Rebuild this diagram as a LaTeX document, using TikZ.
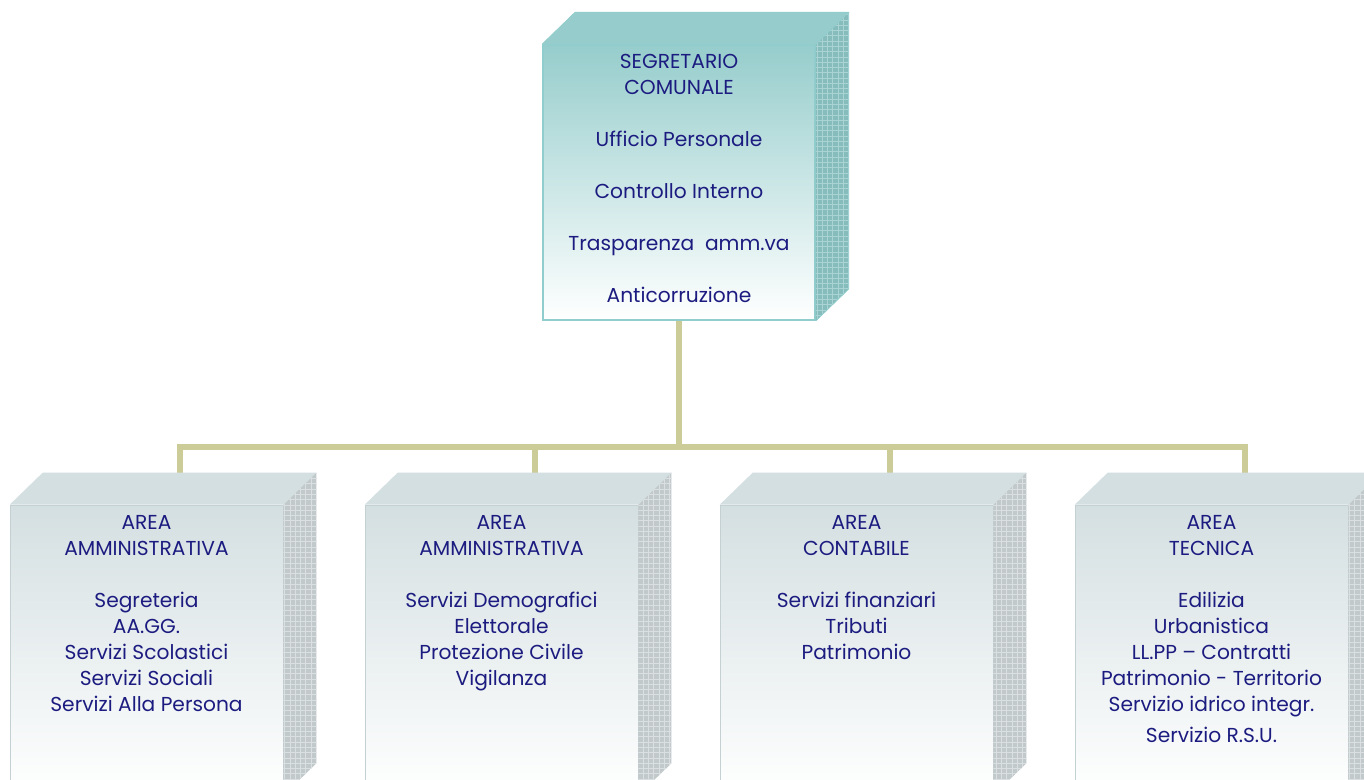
\documentclass[tikz,border=0pt]{standalone}
\usepackage{fontspec}
\setmainfont{Poppins}
\usetikzlibrary{calc,patterns}
\definecolor{ink}{RGB}{28,28,128}
\definecolor{linkolive}{RGB}{204,204,153}
\definecolor{tealtop}{RGB}{150,205,204}
\definecolor{tealedge}{RGB}{145,205,205}
\definecolor{tealside}{RGB}{135,188,188}
\definecolor{tealgrid}{RGB}{170,212,212}
\definecolor{greytop}{RGB}{212,223,225}
\definecolor{greyedge}{RGB}{196,208,210}
\definecolor{greyside}{RGB}{194,201,203}
\definecolor{greygrid}{RGB}{218,223,225}
\tikzset{link/.style = {draw=linkolive, line width=0.12cm}}
\tikzset{segbox/.style = {draw=tealedge, line width=1pt, inner sep=0, minimum width=5.44cm, minimum height=5.5cm, top color=tealtop, bottom color=white}}
\tikzset{areabox/.style = {draw=greyedge, inner sep=0, minimum width=5.46cm, minimum height=5.8cm, top color=greytop, bottom color=white}}
\tikzset{boxtext/.style = {align=center, text=ink, anchor=north, inner sep=0, font=\fontsize{11.5}{14.8}\selectfont}}

\begin{document}
\begin{tikzpicture}[x=0.02cm, y=-0.02cm]
\clip (0,0) rectangle (1364,779);
\fill[white] (0,0) rectangle (1364,779);
% links
\coordinate (bus) at (679,447);
\draw[link] (679,320) -- (bus);
\draw[link] (179.5,473) -- (179.5,447) -- (1244.5,447) -- (1244.5,473);
\draw[link] (534.5,473) -- (534.5,447);
\draw[link] (889.5,473) -- (889.5,447);
% top box
\node[segbox] (seg) at (679,182.5) {};
\fill[tealtop] (seg.north west) -- ++(33,-32) -- ($(seg.north east)+(33,-32)$) -- (seg.north east) -- cycle;
\fill[tealside] (seg.north east) -- ++(33,-32) -- ($(seg.south east)+(33,-32)$) -- (seg.south east) -- cycle;
\fill[pattern=grid, pattern color=tealgrid] (seg.north east) -- ++(33,-32) -- ($(seg.south east)+(33,-32)$) -- (seg.south east) -- cycle;
\draw[tealedge] (seg.north west) -- ++(33,-32) -- ($(seg.north east)+(33,-32)$) -- ($(seg.south east)+(33,-32)$) -- (seg.south east);
\draw[tealedge] (seg.north east) -- ++(33,-32);
\node[boxtext] (segtxt) at ($(seg.north)+(0,10)$) {SEGRETARIO\\COMUNALE\\[14.8pt]Ufficio Personale\\[14.8pt]Controllo Interno\\[14.8pt]Trasparenza~ amm.va\\[14.8pt]Anticorruzione};
% area boxes
\node[areabox] (amm1) at (146.5,650) {};
\node[areabox] (amm2) at (501.5,650) {};
\node[areabox] (cont) at (856.5,650) {};
\node[areabox] (tec) at (1211.5,650) {};
\foreach \b in {amm1,amm2,cont,tec}{
  \fill[greytop] (\b.north west) -- ++(33,-32) -- ($(\b.north east)+(33,-32)$) -- (\b.north east) -- cycle;
  \fill[greyside] (\b.north east) -- ++(33,-32) -- ($(\b.south east)+(33,-32)$) -- (\b.south east) -- cycle;
  \fill[pattern=grid, pattern color=greygrid] (\b.north east) -- ++(33,-32) -- ($(\b.south east)+(33,-32)$) -- (\b.south east) -- cycle;
}
\node[boxtext] (amm1txt) at ($(amm1.north)+(0,10)$) {AREA\\AMMINISTRATIVA\\[14.8pt]Segreteria\\AA.GG.\\Servizi Scolastici\\Servizi Sociali\\Servizi Alla Persona};
\node[boxtext] (amm2txt) at ($(amm2.north)+(0,10)$) {AREA\\AMMINISTRATIVA\\[14.8pt]Servizi Demografici\\Elettorale\\Protezione Civile\\Vigilanza};
\node[boxtext] (conttxt) at ($(cont.north)+(0,10)$) {AREA\\CONTABILE\\[14.8pt]Servizi finanziari\\Tributi\\Patrimonio};
\node[boxtext] (tectxt) at ($(tec.north)+(0,10)$) {AREA\\TECNICA\\[14.8pt]Edilizia\\Urbanistica\\LL.PP -- Contratti\\Patrimonio - Territorio\\Servizio idrico integr.\\[3pt]Servizio R.S.U.};
\end{tikzpicture}
\end{document}
